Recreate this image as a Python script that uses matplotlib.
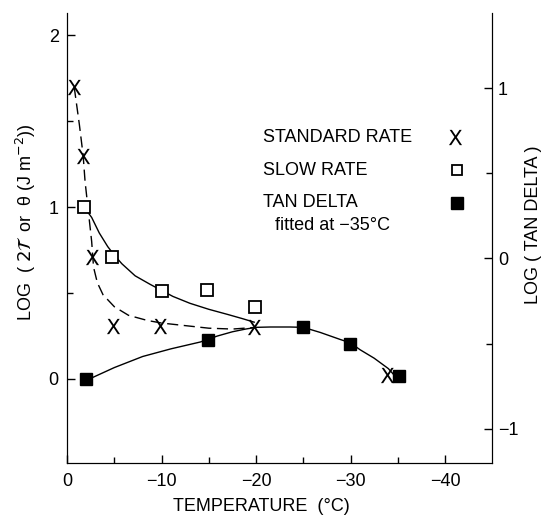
import matplotlib.pyplot as plt

plt.rcParams['font.family'] = ['Liberation Sans Narrow', 'Liberation Sans', 'DejaVu Sans']
plt.rcParams['font.size'] = 13
plt.rcParams['mathtext.fontset'] = 'dejavusans'

# measured points
temp_std = [-0.75, -1.7, -2.6, -4.9, -9.8, -19.8, -33.9]
log_std = [1.70, 1.30, 0.71, 0.31, 0.31, 0.30, 0.02]

temp_slow = [-1.8, -4.8, -10.0, -14.8, -19.9]
log_slow = [1.00, 0.71, 0.51, 0.52, 0.42]

# tan delta, right axis units
temp_tan = [-2.0, -14.9, -25.0, -29.9, -35.1]
log_tan = [-0.71, -0.48, -0.40, -0.50, -0.69]

# hand drawn curves
curve_std_t = [-0.75, -1.3, -1.7, -1.9, -2.3, -2.6, -2.8, -3.2, -3.8, -5.0, -6.5,
               -8.5, -10.0, -12.5, -15.0, -17.5, -20.0]
curve_std_y = [1.70, 1.48, 1.30, 1.15, 0.95, 0.80, 0.65, 0.56, 0.49, 0.42, 0.37,
               0.34, 0.325, 0.31, 0.295, 0.29, 0.30]

curve_slow_t = [-1.8, -2.6, -3.4, -4.3, -5.0, -5.8, -7.2, -8.8, -10.0, -11.2, -13.0,
                -15.0, -17.0, -18.6, -19.8]
curve_slow_y = [1.00, 0.94, 0.85, 0.77, 0.72, 0.67, 0.60, 0.55, 0.515, 0.48, 0.44,
                0.405, 0.375, 0.35, 0.33]

curve_tan_t = [-2.0, -2.75, -5.0, -8.0, -11.0, -14.1, -15.9, -17.5, -18.9, -20.0, -21.5,
               -23.6, -25.0, -26.8, -28.9, -30.0, -31.0, -32.5, -34.0, -34.5]
curve_tan_y = [-0.707, -0.697, -0.64, -0.575, -0.53, -0.49, -0.455, -0.43, -0.414, -0.404,
               -0.402, -0.402, -0.404, -0.434, -0.475, -0.495, -0.535, -0.585, -0.646, -0.677]

fig = plt.figure(figsize=(5.5, 5.22), dpi=100)
ax = fig.add_axes([0.122, 0.113, 0.773, 0.862])
ax2 = ax.twinx()

ax.plot(curve_std_t, curve_std_y, color='k', lw=1.0, ls=(0, (8, 4)))
ax.plot(curve_slow_t, curve_slow_y, color='k', lw=1.0)
ax2.plot(curve_tan_t, curve_tan_y, color='k', lw=1.0)

ax.plot(temp_std, log_std, ls='none', marker=r'$\mathsf{X}$', ms=11, mew=0, color='k', zorder=5)
ax.plot(temp_slow, log_slow, ls='none', marker='s', ms=8, mfc='white', mec='k', mew=1.3, zorder=5)
ax2.plot(temp_tan, log_tan, ls='none', marker='s', ms=8.5, mfc='k', mec='k', zorder=5)

ax.set_xlim(0, -45)
ax.set_ylim(-0.49, 2.13)
ax2.set_ylim(-1.20, 1.44)

ax.set_xticks([0, -10, -20, -30, -40])
ax.set_xticks([-5, -15, -25, -35], minor=True)
ax.set_yticks([0, 1, 2])
ax.set_yticks([0.5, 1.5], minor=True)
ax2.set_yticks([-1, 0, 1])
ax2.set_yticks([-0.5, 0.5], minor=True)

for a in (ax, ax2):
    a.spines['top'].set_visible(False)
    a.tick_params(which='major', direction='in', length=6, width=1)
    a.tick_params(which='minor', direction='in', length=4, width=1)
ax.tick_params(axis='x', pad=7)
ax.tick_params(axis='y', pad=6)
ax2.tick_params(axis='y', pad=4)

ax.set_xlabel('TEMPERATURE  (°C)', va='center')
ax.xaxis.set_label_coords(0.456, -0.096)
ax.set_ylabel(r'LOG  ( $2\mathcal{T}$  or  θ (J m$^{-2}$))', va='center')
ax.yaxis.set_label_coords(-0.096, 0.536)
ax2.set_ylabel('LOG ( TAN DELTA )', va='center')
ax2.yaxis.set_label_coords(1.096, 0.529)

# key
ax.text(0.461, 0.724, 'STANDARD RATE', transform=ax.transAxes, va='center', ha='left')
ax.text(0.461, 0.651, 'SLOW RATE', transform=ax.transAxes, va='center', ha='left')
ax.text(0.461, 0.578, 'TAN DELTA', transform=ax.transAxes, va='center', ha='left')
ax.text(0.49, 0.527, 'fitted at −35°C', transform=ax.transAxes, va='center', ha='left')
ax.plot([0.913], [0.724], transform=ax.transAxes, marker=r'$\mathsf{X}$', ms=11, mew=0, color='k')
ax.plot([0.918], [0.651], transform=ax.transAxes, marker='s', ms=7, mfc='white', mec='k', mew=1.3)
ax.plot([0.918], [0.578], transform=ax.transAxes, marker='s', ms=8, mfc='k', mec='k')

fig.savefig('out.png', dpi=100)
